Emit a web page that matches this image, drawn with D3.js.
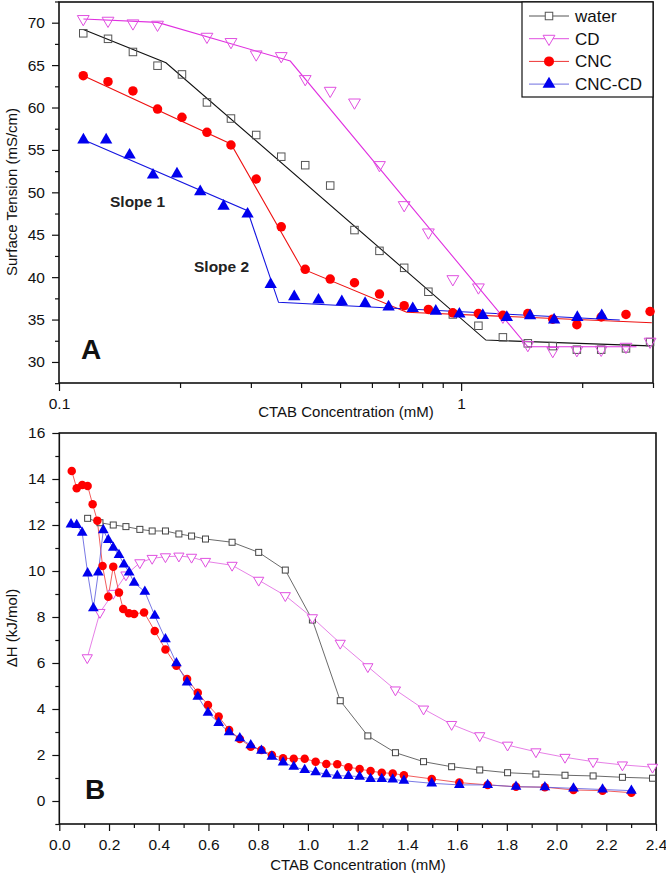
<!DOCTYPE html>
<html><head><meta charset="utf-8">
<script src="https://cdn.jsdelivr.net/npm/d3@7/dist/d3.min.js"></script>
<style>body{margin:0;background:#fff}svg{display:block}text{font-family:"Liberation Sans",Arial,sans-serif}</style>
</head><body>
<script>
// ---------- Panel A (surface tension, log x) ----------
const stWaterX = [0.1149,0.1324,0.1527,0.1758,0.2022,0.2333,0.2677,0.3093,0.357,0.4095,0.4725,0.543,0.6265,0.7217,0.829,0.9536,1.104,1.27,1.465,1.69,1.94,2.23,2.57,2.95];
const stWaterY = [68.75,68.1,66.55,64.93,63.9,60.6,58.7,56.76,54.2,53.2,50.8,45.55,43.1,41.1,38.28,35.6,34.27,32.9,32.2,31.87,31.45,31.45,31.6,32.35];
const stCdX = [0.1149,0.1324,0.1527,0.1758,0.2333,0.2677,0.3093,0.357,0.4095,0.4725,0.543,0.6265,0.7217,0.829,0.9536,1.104,1.27,1.465,1.69,1.94,2.23,2.57,2.95];
const stCdY = [70.44,70.24,69.93,69.77,68.35,67.73,66.27,66.07,63.36,61.98,60.6,53.22,48.5,45.28,39.77,38.8,35.35,32.0,31.3,31.4,31.45,31.8,32.4];
const stCncX = [0.1149,0.1324,0.1527,0.1758,0.2022,0.2333,0.2677,0.3093,0.357,0.4095,0.4725,0.543,0.6265,0.7217,0.829,0.9536,1.104,1.27,1.465,1.69,1.94,2.23,2.57,2.95];
const stCncY = [63.75,63.04,61.95,59.82,58.84,57.08,55.58,51.57,45.94,40.92,39.77,39.34,38.0,36.63,36.2,35.8,35.7,35.5,35.7,35.05,34.4,35.3,35.6,35.95];
const stCncCdX = [0.115,0.131,0.1498,0.1713,0.1965,0.2245,0.2566,0.2944,0.336,0.3846,0.4418,0.505,0.577,0.66,0.758,0.865,0.99,1.132,1.299,1.484,1.703,1.945,2.237];
const stCncCdY = [56.17,56.17,54.4,52.04,52.16,50.07,48.38,47.44,39.15,37.69,37.3,37.1,36.9,36.5,36.3,36.0,35.65,35.5,35.25,35.45,34.95,35.25,35.45];
// fitted segment lines (break points)
const fitWaterX = [0.115,0.1845,1.152,2.95];
const fitWaterY = [69.2,65.28,32.58,31.9];
const fitCdX = [0.115,0.1758,0.376,1.465,2.73];
const fitCdY = [70.44,70.04,65.48,31.79,31.79];
const fitCncX = [0.115,0.2677,0.402,0.732,2.98];
const fitCncY = [63.75,55.7,41.0,35.87,34.63];
const fitCncCdX = [0.115,0.2944,0.3515,2.48];
const fitCncCdY = [56.2,47.83,37.03,34.95];
const topXTicks = [0.1,1];
const topXMinor = [0.2,0.3,0.4,0.5,0.6,0.7,0.8,0.9,2,3];
const topYTicks = [30,35,40,45,50,55,60,65,70];
const topYMinor = [27.5,32.5,37.5,42.5,47.5,52.5,57.5,62.5,67.5,72.5];

// ---------- Panel B (enthalpy) ----------
const dhWaterX = [0.114,0.1635,0.217,0.268,0.324,0.3735,0.427,0.481,0.532,0.588,0.695,0.802,0.909,1.018,1.13,1.241,1.352,1.465,1.578,1.691,1.803,1.917,2.034,2.147,2.265,2.386];
const dhWaterY = [12.29,12.1,12.0,11.93,11.81,11.74,11.74,11.61,11.52,11.39,11.25,10.81,10.04,7.87,4.36,2.83,2.1,1.71,1.49,1.35,1.23,1.17,1.12,1.09,1.03,0.99];
const dhCdX = [0.1125,0.1635,0.217,0.268,0.324,0.3735,0.427,0.481,0.532,0.588,0.695,0.802,0.909,1.018,1.13,1.241,1.352,1.465,1.578,1.691,1.803,1.917,2.034,2.147,2.265,2.386];
const dhCdY = [6.23,8.2,9.03,9.83,10.36,10.55,10.62,10.65,10.6,10.42,10.25,9.6,8.93,7.97,6.86,5.84,4.83,4.0,3.33,2.84,2.43,2.14,1.9,1.71,1.57,1.47];
const dhCncX = [0.05,0.07,0.0924,0.114,0.134,0.153,0.174,0.197,0.217,0.24,0.257,0.28,0.301,0.341,0.384,0.427,0.471,0.514,0.557,0.598,0.641,0.683,0.726,0.77,0.813,0.855,0.9,0.943,0.987,1.031,1.074,1.118,1.163,1.208,1.252,1.297,1.341,1.386,1.498,1.609,1.723,1.837,1.953,2.068,2.185,2.301];
const dhCncY = [14.35,13.6,13.74,13.7,12.9,12.19,10.22,8.88,10.19,9.06,8.35,8.16,8.13,8.2,7.39,6.59,5.88,5.3,4.71,4.17,3.67,3.09,2.7,2.36,2.22,2.0,1.86,1.84,1.84,1.71,1.61,1.6,1.47,1.39,1.3,1.23,1.2,1.12,0.96,0.8,0.7,0.62,0.6,0.48,0.45,0.36];
const dhCncCdX = [0.047,0.07,0.092,0.114,0.137,0.157,0.177,0.197,0.217,0.24,0.26,0.281,0.301,0.344,0.384,0.427,0.471,0.514,0.557,0.598,0.641,0.683,0.726,0.77,0.813,0.855,0.9,0.943,0.987,1.031,1.074,1.118,1.163,1.208,1.252,1.297,1.341,1.386,1.498,1.609,1.723,1.837,1.953,2.068,2.185,2.301];
const dhCncCdY = [12.03,12.0,11.67,9.9,8.38,9.94,11.78,11.35,11.01,10.7,10.29,9.94,9.49,9.1,8.06,7.04,5.99,5.16,4.54,3.84,3.4,2.99,2.73,2.43,2.19,1.93,1.68,1.49,1.35,1.25,1.17,1.1,1.09,1.06,0.96,0.96,0.94,0.88,0.77,0.7,0.7,0.62,0.6,0.55,0.5,0.45];
const botXTicks = [0,0.2,0.4,0.6,0.8,1.0,1.2,1.4,1.6,1.8,2.0,2.2,2.4];
const botXMinor = [0.1,0.3,0.5,0.7,0.9,1.1,1.3,1.5,1.7,1.9,2.1,2.3];
const botYTicks = [0,2,4,6,8,10,12,14,16];
const botYMinor = [-1,1,3,5,7,9,11,13,15];

const seriesNames = ["water","CD","CNC","CNC-CD"];

const W=666,H=875;
const svg=d3.select("body").append("svg").attr("width",W).attr("height",H);
const font='"Liberation Sans",Arial,sans-serif';

function zip(xs,ys){return xs.map((x,i)=>[x,ys[i]]);}
const triUp=d3.symbol().type(d3.symbolTriangle);

function marker(g,type,x,y,size,color,fillOpen){
  if(type==="square"){
    g.append("rect").attr("x",x-size/2).attr("y",y-size/2).attr("width",size).attr("height",size)
     .attr("fill",fillOpen).attr("stroke",color).attr("stroke-width",1);
  } else if(type==="tridown"){
    g.append("path").attr("d",triUp.size(size*size*0.5)()).attr("transform",`translate(${x},${y}) rotate(180)`)
     .attr("fill",fillOpen).attr("stroke",color).attr("stroke-width",1);
  } else if(type==="circle"){
    g.append("circle").attr("cx",x).attr("cy",y).attr("r",size/2).attr("fill",color);
  } else if(type==="triup"){
    g.append("path").attr("d",triUp.size(size*size*0.5)()).attr("transform",`translate(${x},${y})`).attr("fill",color);
  }
}

// ===== Panel A =====
const A={l:59,r:653,t:2,b:383};
const xA=d3.scaleLog().domain([0.1,3.0]).range([A.l,A.r]);
const yA=d3.scaleLinear().domain([27.52,72.44]).range([A.b,A.t]);
const gA=svg.append("g");

const axA=gA.append("g").attr("transform",`translate(0,${A.b})`)
  .call(d3.axisBottom(xA).tickValues(topXTicks).tickSize(8).tickPadding(7).tickFormat(d3.format("")));
axA.selectAll(".tick text").attr("font-size",15.5).attr("font-family",font).attr("fill","#111");
gA.append("g").attr("transform",`translate(0,${A.b})`)
  .call(d3.axisBottom(xA).tickValues(topXMinor).tickSize(5).tickFormat(""));
const ayA=gA.append("g").attr("transform",`translate(${A.l},0)`)
  .call(d3.axisLeft(yA).tickValues(topYTicks).tickSize(7).tickPadding(7));
ayA.selectAll(".tick text").attr("font-size",15.5).attr("font-family",font).attr("fill","#111");
gA.append("g").attr("transform",`translate(${A.l},0)`)
  .call(d3.axisLeft(yA).tickValues(topYMinor).tickSize(4).tickFormat(""));
gA.selectAll(".domain").remove();
gA.selectAll(".tick line").attr("stroke","#111").attr("stroke-width",1.2);
gA.append("rect").attr("x",A.l).attr("y",A.t).attr("width",A.r-A.l).attr("height",A.b-A.t)
  .attr("fill","none").attr("stroke","#111").attr("stroke-width",1.6);

const lineA=d3.line().x(d=>xA(d[0])).y(d=>yA(d[1]));
const plotA=gA.append("g");
plotA.append("path").attr("d",lineA(zip(fitWaterX,fitWaterY))).attr("fill","none").attr("stroke","#111").attr("stroke-width",1.1);
plotA.append("path").attr("d",lineA(zip(fitCdX,fitCdY))).attr("fill","none").attr("stroke","#e030e0").attr("stroke-width",1.1);
plotA.append("path").attr("d",lineA(zip(fitCncX,fitCncY))).attr("fill","none").attr("stroke","#ee1111").attr("stroke-width",1.1);
plotA.append("path").attr("d",lineA(zip(fitCncCdX,fitCncCdY))).attr("fill","none").attr("stroke","#1515e0").attr("stroke-width",1.1);

zip(stWaterX,stWaterY).forEach(d=>marker(plotA,"square",xA(d[0]),yA(d[1]),7.5,"#555","none"));
zip(stCdX,stCdY).forEach(d=>marker(plotA,"tridown",xA(d[0]),yA(d[1]),11,"#e050e0","none"));
zip(stCncX,stCncY).forEach(d=>marker(plotA,"circle",xA(d[0]),yA(d[1]),9.5,"#ff0000"));
zip(stCncCdX,stCncCdY).forEach(d=>marker(plotA,"triup",xA(d[0]),yA(d[1]),11.5,"#0000ee"));

gA.append("text").attr("x",346).attr("y",417).attr("text-anchor","middle").attr("font-size",15).attr("fill","#111").text("CTAB Concentration (mM)");
gA.append("text").attr("transform",`translate(17,192) rotate(-90)`).attr("text-anchor","middle").attr("font-size",15).attr("fill","#111").text("Surface Tension (mS/cm)");
gA.append("text").attr("x",81).attr("y",359).attr("font-size",28).attr("font-weight","bold").attr("fill","#111").text("A");
gA.append("text").attr("x",110).attr("y",207).attr("font-size",15.5).attr("font-weight","bold").attr("fill","#222").text("Slope 1");
gA.append("text").attr("x",194).attr("y",272).attr("font-size",15.5).attr("font-weight","bold").attr("fill","#222").text("Slope 2");

// legend
const lg=gA.append("g");
lg.append("rect").attr("x",522).attr("y",A.t).attr("width",A.r-522).attr("height",95).attr("fill","#fff").attr("stroke","#111").attr("stroke-width",1.2);
const legRows=[
  {name:seriesNames[0],type:"square",line:"#555",col:"#555",size:7.5,fill:"#fff"},
  {name:seriesNames[1],type:"tridown",line:"#e050e0",col:"#e050e0",size:11,fill:"#fff"},
  {name:seriesNames[2],type:"circle",line:"#ee3333",col:"#ff0000",size:10},
  {name:seriesNames[3],type:"triup",line:"#7070e0",col:"#0000ee",size:12}
];
legRows.forEach((r,i)=>{
  const y=16+i*22.7;
  lg.append("line").attr("x1",529).attr("x2",569).attr("y1",y).attr("y2",y).attr("stroke",r.line).attr("stroke-width",1);
  marker(lg,r.type,549,y,r.size,r.col,r.fill);
  lg.append("text").attr("x",575).attr("y",y+6).attr("font-size",17).attr("fill","#111").text(r.name);
});

// ===== Panel B =====
const B={l:59.3,r:656,t:433,b:824};
const xB=d3.scaleLinear().domain([0,2.4]).range([B.l,B.r]);
const yB=d3.scaleLinear().domain([-1,16]).range([B.b,B.t]);
const gB=svg.append("g");
const axB=gB.append("g").attr("transform",`translate(0,${B.b})`)
  .call(d3.axisBottom(xB).tickValues(botXTicks).tickSize(7).tickPadding(8).tickFormat(d3.format(".1f")));
axB.selectAll(".tick text").attr("font-size",15.5).attr("font-family",font).attr("fill","#111");
gB.append("g").attr("transform",`translate(0,${B.b})`)
  .call(d3.axisBottom(xB).tickValues(botXMinor).tickSize(4).tickFormat(""));
const ayB=gB.append("g").attr("transform",`translate(${B.l},0)`)
  .call(d3.axisLeft(yB).tickValues(botYTicks).tickSize(7).tickPadding(7));
ayB.selectAll(".tick text").attr("font-size",15.5).attr("font-family",font).attr("fill","#111");
gB.append("g").attr("transform",`translate(${B.l},0)`)
  .call(d3.axisLeft(yB).tickValues(botYMinor).tickSize(4).tickFormat(""));
gB.selectAll(".domain").remove();
gB.selectAll(".tick line").attr("stroke","#111").attr("stroke-width",1.2);
gB.append("rect").attr("x",B.l).attr("y",B.t).attr("width",B.r-B.l).attr("height",B.b-B.t)
  .attr("fill","none").attr("stroke","#111").attr("stroke-width",1.6);

const lineB=d3.line().x(d=>xB(d[0])).y(d=>yB(d[1]));
const plotB=gB.append("g");
plotB.append("path").attr("d",lineB(zip(dhWaterX,dhWaterY))).attr("fill","none").attr("stroke","#444").attr("stroke-width",0.8);
plotB.append("path").attr("d",lineB(zip(dhCdX,dhCdY))).attr("fill","none").attr("stroke","#e060e0").attr("stroke-width",0.8);
plotB.append("path").attr("d",lineB(zip(dhCncX,dhCncY))).attr("fill","none").attr("stroke","#ee3333").attr("stroke-width",0.8);
plotB.append("path").attr("d",lineB(zip(dhCncCdX,dhCncCdY))).attr("fill","none").attr("stroke","#5555dd").attr("stroke-width",0.8);
zip(dhWaterX,dhWaterY).forEach(d=>marker(plotB,"square",xB(d[0]),yB(d[1]),6,"#444","#fff"));
zip(dhCdX,dhCdY).forEach(d=>marker(plotB,"tridown",xB(d[0]),yB(d[1]),9.5,"#e050e0","#fff"));
zip(dhCncX,dhCncY).forEach(d=>marker(plotB,"circle",xB(d[0]),yB(d[1]),8.5,"#ff0000"));
zip(dhCncCdX,dhCncCdY).forEach(d=>marker(plotB,"triup",xB(d[0]),yB(d[1]),10,"#0000ee"));

gB.append("text").attr("x",358).attr("y",870).attr("text-anchor","middle").attr("font-size",15).attr("fill","#111").text("CTAB Concentration (mM)");
gB.append("text").attr("transform",`translate(17,628) rotate(-90)`).attr("text-anchor","middle").attr("font-size",15).attr("fill","#111").text("ΔH (kJ/mol)");
gB.append("text").attr("x",85).attr("y",799).attr("font-size",28).attr("font-weight","bold").attr("fill","#111").text("B");
</script>
</body></html>
